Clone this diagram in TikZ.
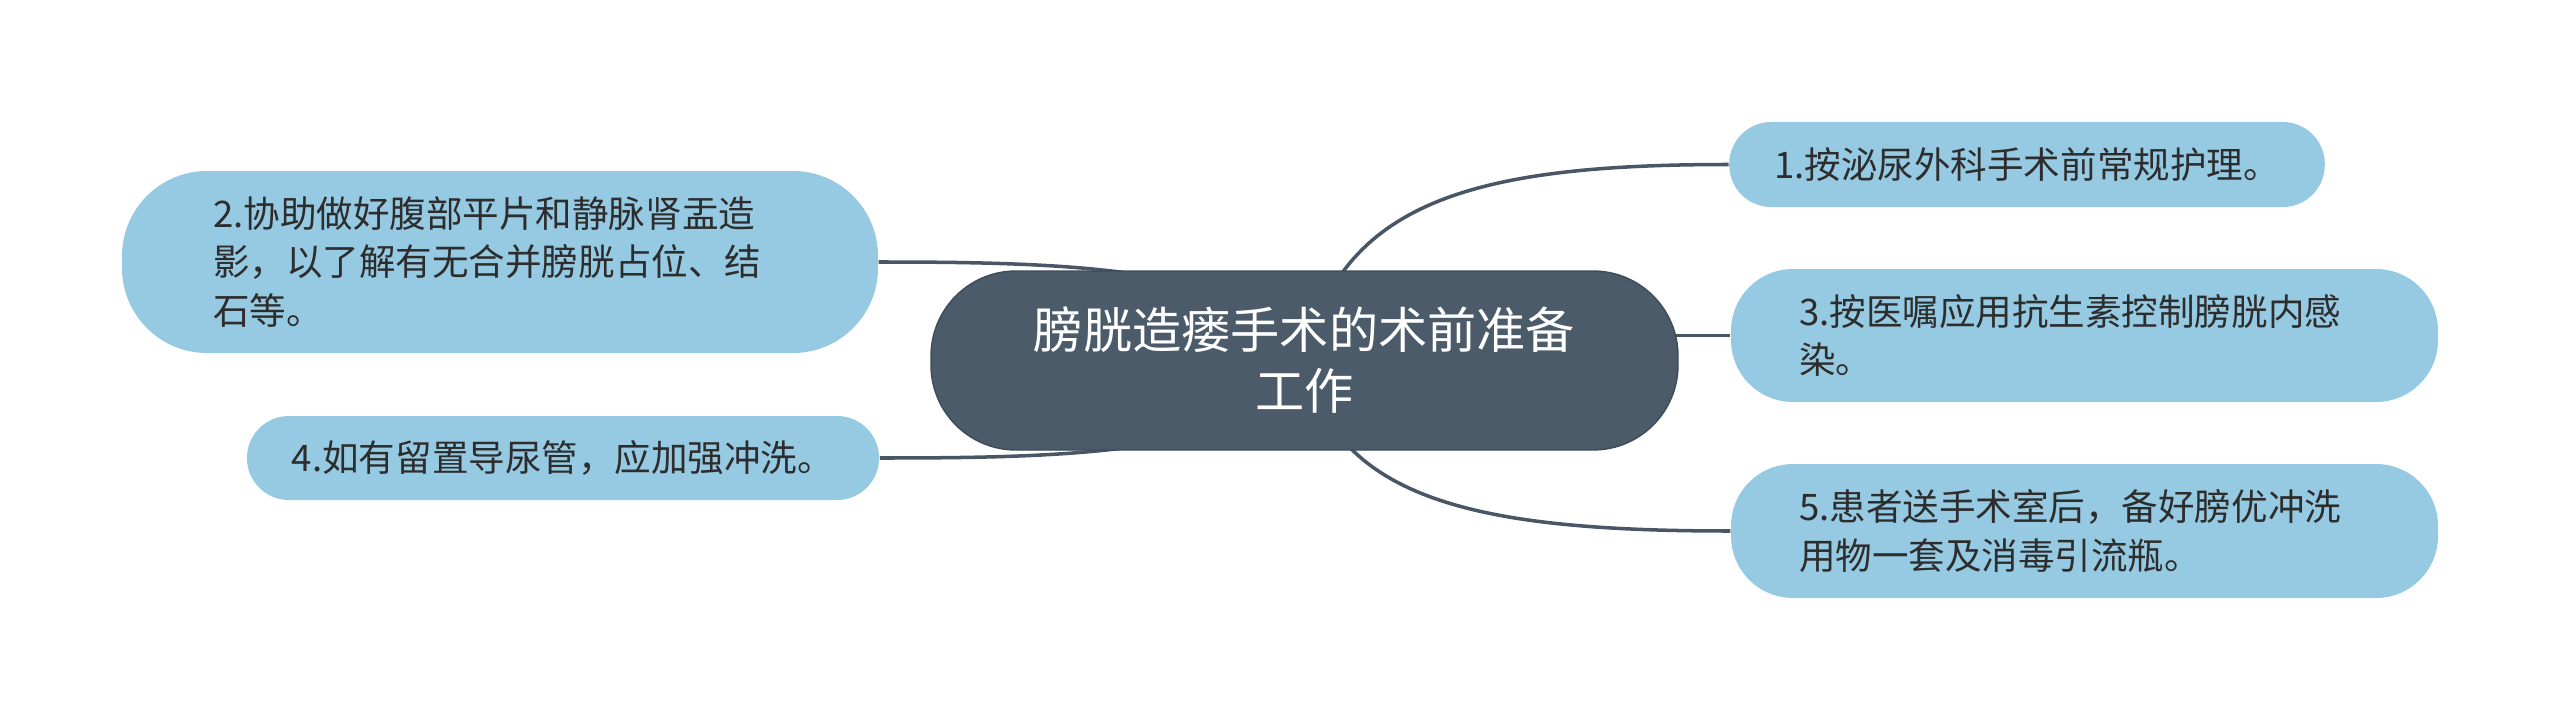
\documentclass[tikz,border=0pt]{standalone}
\usepackage{fontspec}
\newfontfamily\cjk{Noto Sans CJK SC}
\usepackage{tikz}
\usetikzlibrary{positioning, backgrounds}

\definecolor{rootfill}{RGB}{75,91,106}
\definecolor{rootedge}{RGB}{62,76,90}
\definecolor{leaffill}{RGB}{150,202,226}
\definecolor{leaftext}{RGB}{45,45,45}
\definecolor{linkcol}{RGB}{72,86,102}

\tikzset{
  rootnode/.style={rectangle, fill=rootfill, draw=rootedge, line width=0.4pt,
    text=white, align=center, inner sep=0pt,
    font={\cjk\fontsize{14pt}{17.4pt}\selectfont}},
  leaf/.style={rectangle, fill=leaffill, text=leaftext, align=left,
    inner xsep=0.45cm, inner ysep=0pt,
    font={\cjk\fontsize{10.4pt}{13.7pt}\selectfont}},
  link/.style={draw=linkcol, line width=1pt}
}

\begin{document}
\begin{tikzpicture}
\useasboundingbox (0,0) rectangle (25.6,7.21);

% centre
\node[rootnode, minimum width=7.47cm, minimum height=1.79cm, rounded corners=0.85cm]
  (root) at (13.045,3.605) {膀胱造瘘手术的术前准备\\工作};

% right side
\node[leaf, minimum height=0.85cm, rounded corners=0.42cm]
  (n1) at (20.27,5.565) {1.按泌尿外科手术前常规护理。};
\node[leaf, text width=5.71cm, inner xsep=0.68cm, minimum height=1.33cm, rounded corners=0.62cm]
  (n3) at (20.845,3.855) {3.按医嘱应用抗生素控制膀胱内感\\染。};
\node[leaf, text width=5.71cm, inner xsep=0.68cm, minimum height=1.34cm, rounded corners=0.62cm]
  (n5) at (20.845,1.90) {5.患者送手术室后，备好膀优冲洗\\用物一套及消毒引流瓶。};

% left side
\node[leaf, text width=5.74cm, inner xsep=0.91cm, minimum height=1.82cm, rounded corners=0.85cm]
  (n2) at (5.00,4.59) {2.协助做好腹部平片和静脉肾盂造\\影，以了解有无合并膀胱占位、结\\石等。};
\node[leaf, minimum height=0.84cm, rounded corners=0.42cm]
  (n4) at (5.63,2.63) {4.如有留置导尿管，应加强冲洗。};

% connectors
\begin{scope}[on background layer]
\draw[link] (root.center) .. controls +(0.36,1.60) and +(-2.53,0) .. (n1.west);
\draw[link] (root.center |- n3.west) -- (n3.west);
\draw[link] (root.center) .. controls +(0.31,-1.40) and +(-2.53,0) .. (n5.west);
\draw[link] (n2.east) .. controls +(2.04,0) and +(-0.44,0.92) .. (root.center);
\draw[link] (n4.east) .. controls +(2.04,0) and +(-0.44,-0.92) .. (root.center);
\end{scope}
\end{tikzpicture}
\end{document}
